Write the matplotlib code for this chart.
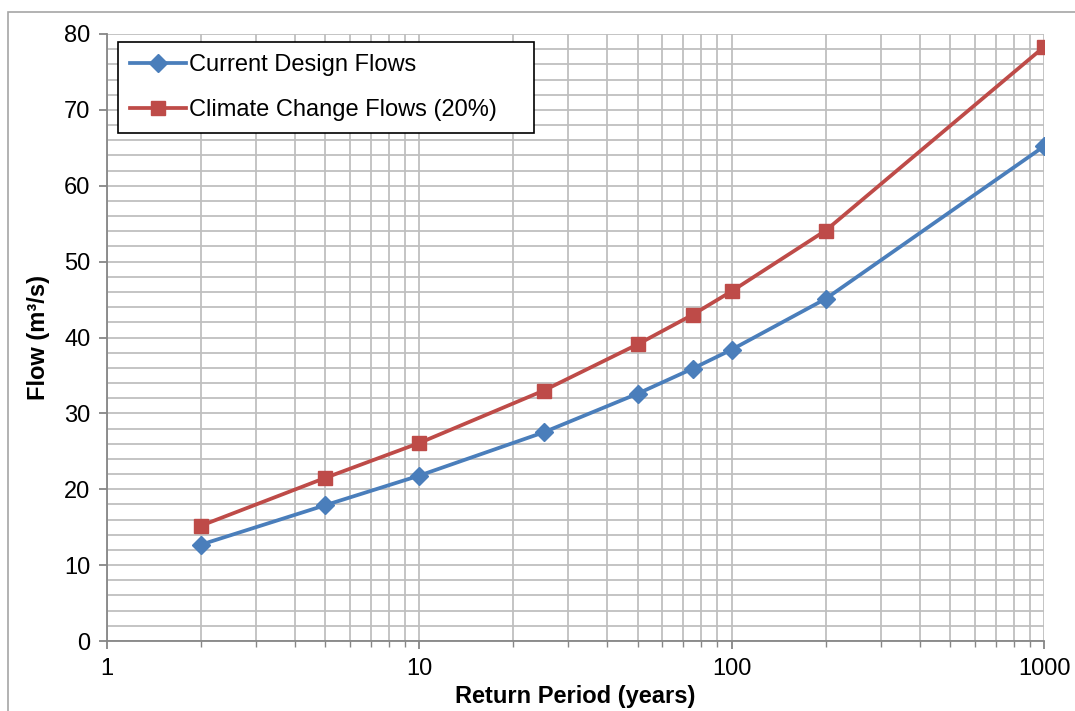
import matplotlib
matplotlib.use("Agg")
import matplotlib.pyplot as plt
from matplotlib.patches import Rectangle
from matplotlib.ticker import FixedLocator, LogLocator, NullFormatter

# %% data
returnPeriod = [2, 5, 10, 25, 50, 75, 100, 200, 1000]
currentFlows = [12.7, 17.9, 21.8, 27.5, 32.6, 35.9, 38.4, 45.1, 65.2]
climateFlows = [15.2, 21.5, 26.1, 33.0, 39.1, 43.0, 46.1, 54.1, 78.3]
seriesNames = ["Current Design Flows", "Climate Change Flows (20%)"]
xTicks = [1, 10, 100, 1000]
xTickLabels = ["1", "10", "100", "1000"]
yTicks = list(range(0, 81, 10))

plt.rcParams["font.family"] = ["Liberation Sans", "DejaVu Sans"]

blue, red, gridGray = "#4A7EBB", "#BE4B48", "#BFBFBF"

fig = plt.figure(figsize=(10.75, 7.11), dpi=100)
ax = fig.add_axes([107 / 1075, 70 / 711, 937 / 1075, 607 / 711])

# outer chart-area border (cut off at right/bottom like the original)
fig.patches.append(Rectangle((8 / 1075, -0.1), 1.2, (711 - 12) / 711 + 0.1,
                             transform=fig.transFigure, fill=False,
                             edgecolor="#A6A6A6", linewidth=1.2, zorder=0))

ax.plot(returnPeriod, currentFlows, color=blue, lw=2.7, marker="D",
        markersize=9.5, label=seriesNames[0], zorder=4)
ax.plot(returnPeriod, climateFlows, color=red, lw=2.7, marker="s",
        markersize=10.5, label=seriesNames[1], zorder=4)

ax.set_xscale("log")
ax.set_xlim(1, 1000)
ax.set_ylim(0, 80)

ax.xaxis.set_major_locator(FixedLocator(xTicks))
ax.set_xticklabels(xTickLabels)
ax.xaxis.set_minor_locator(LogLocator(base=10, subs=range(2, 10)))
ax.xaxis.set_minor_formatter(NullFormatter())
ax.set_yticks(yTicks)
ax.yaxis.set_minor_locator(FixedLocator(range(0, 81, 2)))

ax.grid(True, which="both", color=gridGray, lw=1.3)
ax.set_axisbelow(True)

for side in ["top", "right"]:
    ax.spines[side].set_visible(False)
for side in ["left", "bottom"]:
    ax.spines[side].set_color("#868686")
    ax.spines[side].set_linewidth(1.3)

ax.tick_params(axis="both", which="major", labelsize=17, length=6,
               color="#868686", width=1.3, pad=6)
ax.tick_params(axis="x", which="minor", length=4, color="#868686",
               width=1.0)
ax.tick_params(axis="y", which="minor", length=0)

ax.set_xlabel("Return Period (years)", fontsize=17, fontweight="bold",
              labelpad=4)
ax.set_ylabel("Flow (m³/s)", fontsize=17, fontweight="bold", labelpad=10)

leg = ax.legend(loc="upper left",
                bbox_to_anchor=(11 / 937, 0, 416 / 937, 1 - 8 / 607),
                mode="expand", fontsize=17, frameon=True, fancybox=False,
                borderpad=0.5, labelspacing=1.0, handlelength=2.4,
                handletextpad=0.1, borderaxespad=0)
leg.get_frame().set_edgecolor("black")
leg.get_frame().set_linewidth(1.2)
leg.get_frame().set_alpha(1)

fig.savefig("out.png", dpi=100)
